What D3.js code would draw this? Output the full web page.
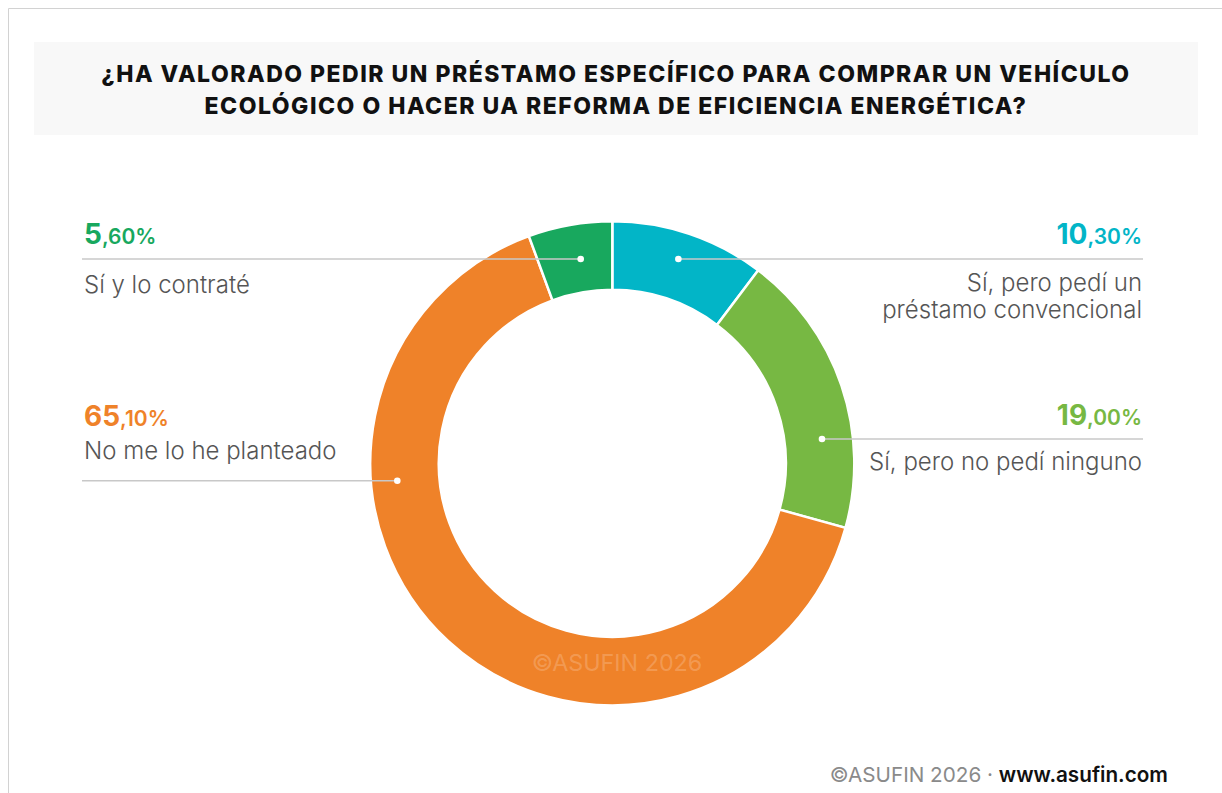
<!DOCTYPE html>
<html>
<head>
<meta charset="utf-8">
<script src="https://cdn.jsdelivr.net/npm/d3@7"></script>
<style>
  html, body { margin: 0; padding: 0; background: #ffffff; }
  svg { display: block; }
  text { font-family: Inter, "Open Sans", "DejaVu Sans", sans-serif; }
</style>
</head>
<body>
<svg id="chart" width="1222" height="793"></svg>
<script>
// ---------- DATA ----------
const titleLines = [
  "¿HA VALORADO PEDIR UN PRÉSTAMO ESPECÍFICO PARA COMPRAR UN VEHÍCULO",
  "ECOLÓGICO O HACER UA REFORMA DE EFICIENCIA ENERGÉTICA?"
];
const categories = [
  ["Sí, pero pedí un", "préstamo convencional"],
  ["Sí, pero no pedí ninguno"],
  ["No me lo he planteado"],
  ["Sí y lo contraté"]
];
const values = [10.3, 19.0, 65.1, 5.6];
const colors = ["#02B5C7", "#77B843", "#EF8229", "#18A85E"];
const watermark = "©ASUFIN 2026";
const footerA = "©ASUFIN 2026 · ";
const footerB = "www.asufin.com";

// ---------- LAYOUT ----------
const W = 1222, H = 793;
const cx = 612.3, cy = 463.3;
const rOuter = 242, rInner = 173.5;
// label layout: anchor point (angle, radius) on the ring, side, text offsets from the leader line
const labelLayout = [
  { angle: 0.3128,  r: 214.7, side: "right", pctDy: -15, lblDy: 32 },
  { angle: 1.4554,  r: 211.1, side: "right", pctDy: -14, lblDy: 31 },
  { angle: -1.6515, r: 215.7, side: "left",  pctDy: -55, lblDy: -22 },
  { angle: -0.1535, r: 206.7, side: "left",  pctDy: -15, lblDy: 34 }
];
const leftX = 82, rightX = 1143;

const svg = d3.select("#chart");

// frame
svg.append("path")
  .attr("d", `M8.5,${H} L8.5,8.5 L${W},8.5`)
  .attr("fill", "none").attr("stroke", "#d2d2d2").attr("stroke-width", 1);

// title box
svg.append("rect").attr("x", 34).attr("y", 42).attr("width", 1164).attr("height", 93)
  .attr("fill", "#f8f8f8");
svg.selectAll("text.title").data(titleLines).join("text")
  .attr("class", "title")
  .attr("x", 616).attr("y", (d, i) => 82 + i * 32)
  .attr("text-anchor", "middle")
  .attr("font-size", 23).attr("font-weight", 800).attr("letter-spacing", 1.5)
  .attr("fill", "#111")
  .text(d => d);

// donut
const pie = d3.pie().sort(null).value(d => d).startAngle(0).endAngle(2 * Math.PI);
const arcs = pie(values);
const arc = d3.arc().innerRadius(rInner).outerRadius(rOuter);
const g = svg.append("g").attr("transform", `translate(${cx},${cy})`);
g.selectAll("path.slice").data(arcs).join("path")
  .attr("class", "slice")
  .attr("d", arc)
  .attr("fill", (d, i) => colors[i])
  .attr("stroke", "#ffffff").attr("stroke-width", 2.5);

// watermark
svg.append("text").attr("x", 617).attr("y", 671).attr("text-anchor", "middle")
  .attr("font-size", 23.3).attr("font-weight", 400)
  .attr("fill", "#ffffff").attr("fill-opacity", 0.2)
  .text(watermark);

// labels
function fmtParts(v) {
  const s = v.toFixed(2).replace(".", ",");
  const idx = s.indexOf(",");
  return [s.slice(0, idx), s.slice(idx) + "%"];
}

labelLayout.forEach((L, i) => {
  const p = d3.pointRadial(L.angle, L.r);
  const px = cx + p[0], py = cy + p[1];
  const x2 = L.side === "left" ? leftX : rightX;
  const anchor = L.side === "left" ? "start" : "end";
  const tx = L.side === "left" ? leftX + 2 : rightX - 1;

  svg.append("line")
    .attr("x1", px).attr("y1", py).attr("x2", x2).attr("y2", py)
    .attr("stroke", "#c8c8c8").attr("stroke-width", 1.6);
  svg.append("circle").attr("cx", px).attr("cy", py).attr("r", 3.3)
    .attr("fill", "#ffffff");

  const parts = fmtParts(values[i]);
  const t = svg.append("text")
    .attr("x", tx).attr("y", py + L.pctDy)
    .attr("text-anchor", anchor)
    .attr("fill", colors[i]);
  t.append("tspan").attr("font-size", 28).attr("font-weight", 700).text(parts[0]);
  t.append("tspan").attr("font-size", 21).attr("font-weight", 600).text(parts[1]);

  categories[i].forEach((line, j) => {
    svg.append("text")
      .attr("x", tx).attr("y", py + L.lblDy + j * 27)
      .attr("text-anchor", anchor)
      .attr("font-size", 24).attr("font-weight", 300).attr("fill", "#555555")
      .text(line);
  });
});

// footer
const f = svg.append("text").attr("x", 1168).attr("y", 782).attr("text-anchor", "end")
  .attr("font-size", 20.7);
f.append("tspan").attr("fill", "#8a8a8a").attr("font-weight", 400).text(footerA);
f.append("tspan").attr("fill", "#111111").attr("font-weight", 600).text(footerB);
</script>
</body>
</html>
